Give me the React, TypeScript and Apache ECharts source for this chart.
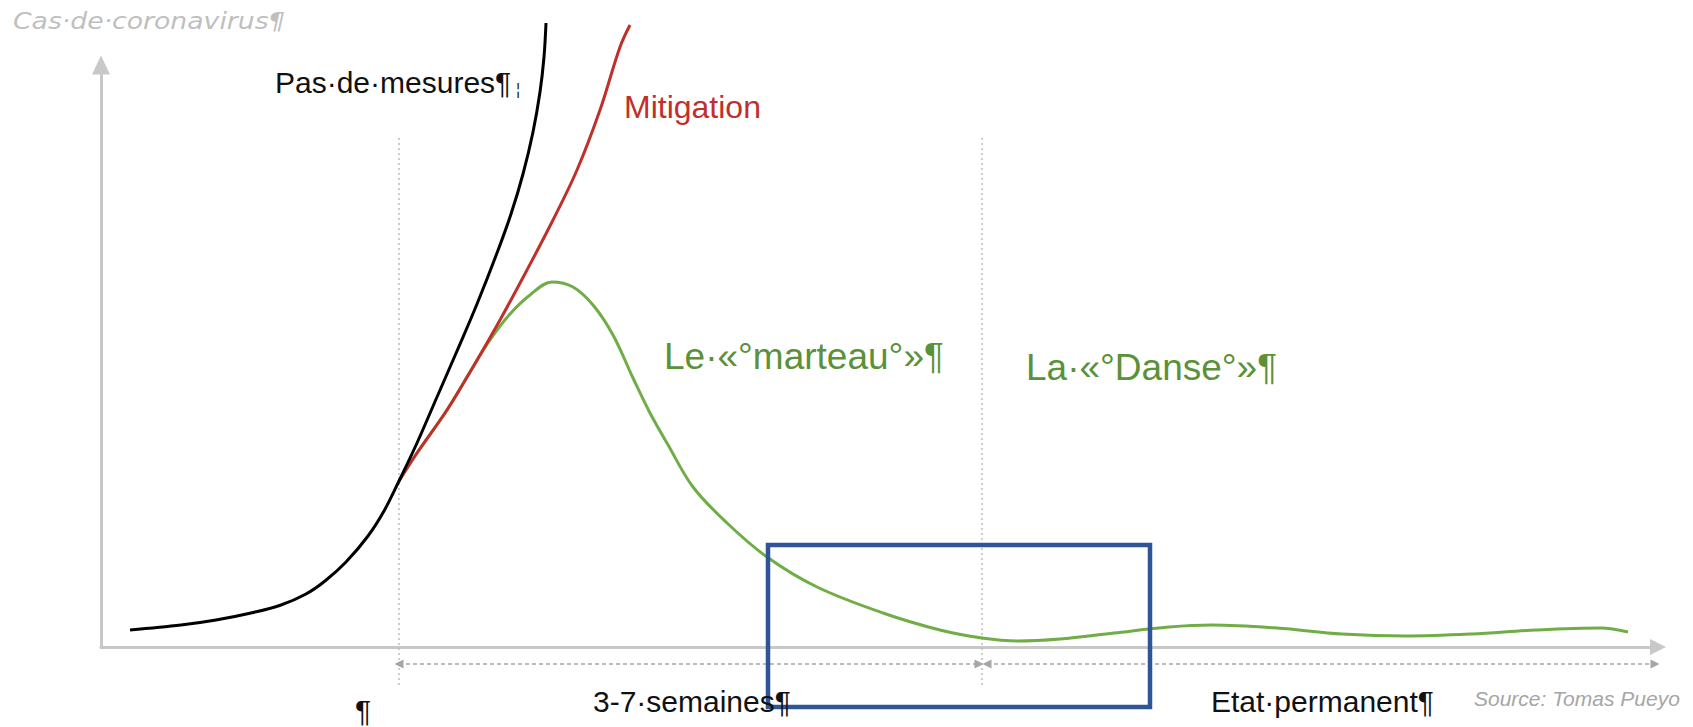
import React, { useEffect, useRef } from "react";
import * as echarts from "echarts";

// Conceptual chart: x = time (arbitrary units), y = coronavirus cases (arbitrary units)
const noMeasures: [number, number][] = [
  [29, 17], [80, 22], [115, 27], [150, 34], [180, 42], [205, 53], [224, 66],
  [245, 85], [267, 111], [283, 136], [298, 166], [316, 204], [336, 250],
  [356, 296], [376, 343], [396, 394], [410, 433], [422, 473], [432, 515],
  [439, 555], [443, 590], [445, 624],
];
const mitigation: [number, number][] = [
  [298, 166], [316, 194], [346, 237], [372, 280], [399, 327], [426, 377],
  [452, 427], [476, 477], [499, 537], [519, 600], [529, 622],
];
const hammerDance: [number, number][] = [
  [298, 166], [316, 194], [346, 237], [369, 275], [389, 307], [409, 333],
  [429, 352], [451, 365], [472, 360], [492, 342], [512, 312], [532, 269],
  [549, 234], [566, 204], [592, 160], [626, 124], [666, 90], [716, 60],
  [782, 34], [839, 17], [881, 9], [916, 6], [959, 8], [1013, 14], [1068, 20],
  [1111, 22], [1176, 19], [1241, 13], [1306, 11], [1371, 13], [1435, 17],
  [1500, 19], [1527, 15],
];
// phase boundaries (x) and the span of their guide lines (y)
const phaseX = [298, 881];
const guideY = [-38, 512];
// duration arrows (below the axis)
const arrowY = -17;
const spans: [number, number][] = [[298, 878], [886, 1554]];
// highlighted region [x0, x1, y0, y1]
const box = [667, 1049, -60, 102];

const yTitle = "Cas·de·coronavirus¶";
const noMeasuresLabel = "Pas·de·mesures¶";
const mitigationLabel = "Mitigation";
const hammerLabel = "Le·«°marteau°»¶";
const danceLabel = "La·«°Danse°»¶";
const spanLabels = ["¶", "3-7·semaines¶", "Etat·permanent¶"];
const sourceLabel = "Source: Tomas Pueyo";

const FONT = "'Liberation Sans', Arial, sans-serif";

function txt(
  text: string, x: number, baseline: number, size: number, fill: string,
  opts: { italic?: boolean; family?: string; scaleX?: number } = {}
) {
  return {
    type: "text",
    x,
    y: baseline - size * 0.347,
    scaleX: opts.scaleX ?? 1,
    silent: true,
    z: 20,
    style: {
      text,
      fill,
      fontSize: size,
      fontFamily: opts.family ?? FONT,
      fontStyle: opts.italic ? "italic" : "normal",
      align: "left",
      verticalAlign: "middle",
    },
  };
}

export default function App() {
  const ref = useRef<HTMLDivElement>(null);
  useEffect(() => {
    if (!ref.current) return;
    const chart = echarts.init(ref.current, null, { renderer: "svg" });
    const axisStyle = { color: "#c8c8c8", width: 3 };
    const curve = (name: string, data: [number, number][], color: string, z: number) => ({
      name,
      type: "line",
      data,
      smooth: 0.35,
      symbol: "none",
      clip: false,
      silent: true,
      z,
      lineStyle: { color, width: 3 },
    });
    const guides = phaseX.map((x) => ({
      type: "line",
      data: [[x, guideY[0]], [x, guideY[1]]],
      symbol: "none",
      clip: false,
      silent: true,
      z: 1,
      lineStyle: { color: "#bdbdbd", width: 1.5, type: [2, 3] },
    }));
    const arrows = spans.map(([a, b]) => ({
      type: "line",
      data: [
        { value: [a, arrowY], symbolRotate: 90 },
        { value: [b, arrowY], symbolRotate: -90 },
      ],
      symbol: "triangle",
      symbolSize: [9, 9],
      showSymbol: true,
      clip: false,
      silent: true,
      z: 1,
      itemStyle: { color: "#a6a6a6" },
      lineStyle: { color: "#a6a6a6", width: 1.5, type: [4, 3] },
    }));
    chart.setOption({
      animation: false,
      grid: { left: 101, top: 65, width: 1557, height: 582 },
      xAxis: {
        type: "value", min: 0, max: 1557,
        axisLine: { show: true, onZero: false, symbol: ["none", "triangle"], symbolSize: [16, 16], lineStyle: axisStyle },
        axisTick: { show: false }, axisLabel: { show: false }, splitLine: { show: false },
      },
      yAxis: {
        type: "value", min: 0, max: 582,
        axisLine: { show: true, onZero: false, symbol: ["none", "triangle"], symbolSize: [18, 19], lineStyle: axisStyle },
        axisTick: { show: false }, axisLabel: { show: false }, splitLine: { show: false },
      },
      series: [
        ...guides,
        ...arrows,
        curve("hammer", hammerDance, "#70ad47", 3),
        curve("mitigation", mitigation, "#c0302b", 4),
        curve("none", noMeasures, "#000000", 5),
        {
          type: "line",
          data: [[box[0], box[3]], [box[1], box[3]], [box[1], box[2]], [box[0], box[2]], [box[0], box[3]]],
          symbol: "none",
          clip: false,
          silent: true,
          z: 10,
          lineStyle: { color: "#2f5597", width: 4.5, join: "miter", cap: "square" },
        },
      ],
      graphic: [
        txt(yTitle, 13, 29, 23, "#bfbfbf", { italic: true, family: "'DejaVu Sans', sans-serif", scaleX: 1.16 }),
        txt(noMeasuresLabel, 275, 93, 30, "#111111"),
        txt("¦", 516, 95, 16, "#222222"),
        txt(mitigationLabel, 624, 118, 32, "#c0302b"),
        txt(hammerLabel, 664, 369, 37, "#5b9138"),
        txt(danceLabel, 1026, 380, 37, "#5b9138"),
        txt(spanLabels[0], 355, 721, 30, "#111111"),
        txt(spanLabels[1], 593, 712, 30, "#111111"),
        txt(spanLabels[2], 1211, 712, 30, "#111111"),
        txt(sourceLabel, 1474, 706, 21, "#a6a6a6", { italic: true }),
      ],
    });
    return () => chart.dispose();
  }, []);
  return (
    <div
      ref={ref}
      style={{ position: "absolute", left: 0, top: 0, width: 1693, height: 727, background: "#ffffff" }}
    />
  );
}
